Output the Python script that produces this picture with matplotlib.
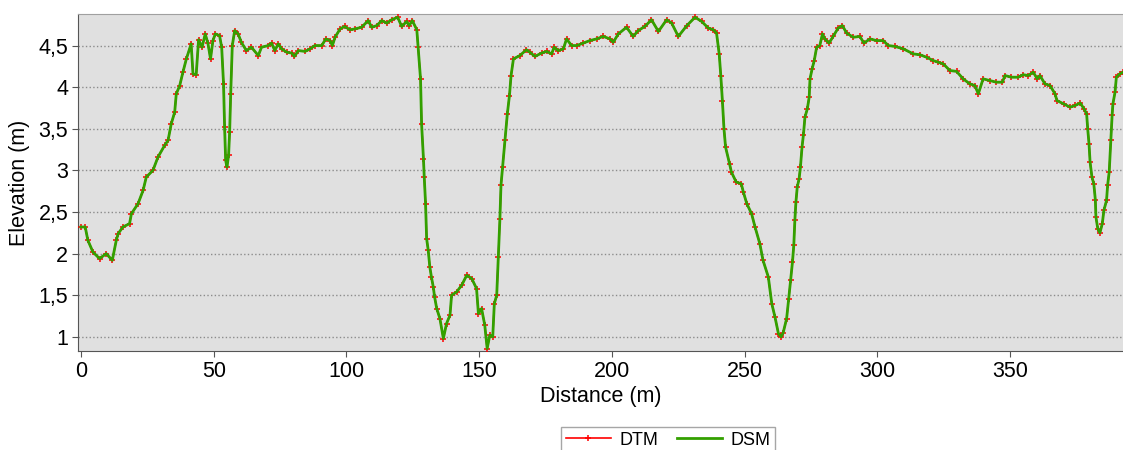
import matplotlib.pyplot as plt
from matplotlib.ticker import FuncFormatter

plt.rcParams['font.family'] = ['Liberation Sans', 'DejaVu Sans']

# profile along the transect
distance = [0, 1.6, 2.6, 4.5, 7, 9.5, 11.8, 13.3, 14, 15.8, 18.3, 19, 21.5, 23.4, 24.6, 27.1, 29, 31.5, 32.8, 34,
            35.3, 35.9, 37.2, 38.4, 39.7, 41.5, 42.2, 43.4, 44.3, 45.6, 46.8, 47.8, 48.8, 49.7, 50.6, 52.2, 53, 53.7,
            54.1, 54.5, 55, 55.6, 56, 56.4, 57, 57.9, 59.2, 60.4, 62.3, 64.2, 66.8, 68, 70.5, 71.8, 73, 74.3, 75.6,
            77.5, 79.4, 80.4, 81.9, 84.4, 86.3, 88.1, 90.7, 92.2, 93.8, 94.7, 95.7, 97.6, 99.3, 101.3, 103.2, 105.7,
            108.2, 109.5, 111.4, 113.3, 115.2, 117, 119.3, 120.8, 122.7, 123.6, 124.8, 126.5, 127, 127.9, 128.3, 129,
            129.3, 129.8, 130.2, 130.8, 131.4, 132, 132.7, 133.2, 134, 135.2, 136.5, 137.7, 139, 139.6, 141.5, 143.4,
            145.3, 147.2, 149, 149.7, 150.9, 152.1, 153, 154, 155.1, 155.7, 156.6, 157.2, 157.8, 158.2, 158.8, 159.7,
            160.6, 161.4, 162, 162.9, 165.3, 167.8, 169.1, 171, 173.5, 175.4, 177.3, 178.2, 179.8, 181.7, 182.9, 184.8,
            186.7, 189.2, 191.7, 194.2, 196.7, 199.3, 200.5, 202.4, 205.5, 208, 209.9, 212.4, 214.9, 217.5, 220.6,
            222.5, 225, 228.2, 231.3, 233.8, 236.3, 238.2, 239.4, 240.4, 241, 241.6, 242.2, 242.8, 244.3, 245, 246.8,
            248.7, 249.5, 250.8, 252.6, 253.9, 255.7, 256.9, 258.9, 260.2, 261.4, 262.7, 263.7, 264.5, 265.8, 266.6,
            267.3, 268, 268.5, 268.9, 269.3, 269.8, 270.5, 271, 271.6, 272.1, 272.7, 273.6, 274.3, 274.6, 275.4, 276.2,
            277.1, 278.3, 279.3, 280.2, 281.8, 283.3, 285.2, 286.8, 288.4, 290.9, 293.4, 294.9, 297.2, 299.7, 302.2,
            304.1, 306.6, 309.8, 313.5, 316, 318.5, 321, 322.9, 324.8, 327.3, 329.8, 332.3, 334.8, 336.7, 338, 339.8,
            342.3, 344.8, 347.1, 348, 350.5, 353, 354.9, 356.8, 358.7, 360.2, 361.2, 363.1, 365, 366.9, 367.6, 370.1,
            372.6, 374.5, 376.4, 377.8, 378.8, 379.2, 379.7, 380.1, 380.8, 381.5, 382.1, 382.3, 383, 383.8, 384.7,
            385.3, 386.3, 386.7, 387.3, 387.9, 388.4, 388.7, 389.5, 390, 391.3, 392.5]

dtm = [2.32, 2.32, 2.16, 2.02, 1.94, 2.0, 1.92, 2.16, 2.24, 2.32, 2.36, 2.48, 2.60, 2.76, 2.92, 3.0, 3.16, 3.30, 3.36,
       3.56, 3.70, 3.92, 4.02, 4.18, 4.34, 4.52, 4.16, 4.15, 4.57, 4.48, 4.64, 4.53, 4.34, 4.56, 4.64, 4.62, 4.48, 4.04,
       3.52, 3.12, 3.04, 3.18, 3.46, 3.92, 4.50, 4.68, 4.64, 4.54, 4.44, 4.48, 4.38, 4.48, 4.50, 4.53, 4.44, 4.52, 4.46,
       4.42, 4.41, 4.37, 4.44, 4.43, 4.46, 4.50, 4.50, 4.58, 4.56, 4.50, 4.60, 4.70, 4.73, 4.69, 4.70, 4.72, 4.80, 4.72,
       4.74, 4.80, 4.77, 4.81, 4.84, 4.73, 4.79, 4.74, 4.80, 4.69, 4.48, 4.10, 3.56, 3.14, 2.92, 2.60, 2.18, 2.04, 1.84,
       1.72, 1.60, 1.48, 1.34, 1.22, 0.98, 1.16, 1.26, 1.50, 1.54, 1.62, 1.74, 1.70, 1.58, 1.28, 1.34, 1.14, 0.86, 1.02,
       1.0, 1.40, 1.50, 1.96, 2.42, 2.82, 3.04, 3.36, 3.68, 3.90, 4.14, 4.34, 4.38, 4.45, 4.42, 4.37, 4.41, 4.43, 4.40,
       4.48, 4.44, 4.46, 4.58, 4.50, 4.50, 4.53, 4.56, 4.58, 4.61, 4.58, 4.54, 4.64, 4.72, 4.61, 4.68, 4.73, 4.81, 4.67,
       4.81, 4.77, 4.61, 4.74, 4.84, 4.79, 4.71, 4.69, 4.65, 4.40, 4.14, 3.84, 3.50, 3.28, 3.08, 2.98, 2.86, 2.84, 2.74,
       2.60, 2.48, 2.32, 2.12, 1.92, 1.72, 1.40, 1.24, 1.04, 1.00, 1.05, 1.22, 1.46, 1.68, 1.90, 2.10, 2.40, 2.62, 2.80,
       2.90, 3.04, 3.28, 3.42, 3.64, 3.74, 3.88, 4.10, 4.22, 4.32, 4.48, 4.50, 4.64, 4.58, 4.53, 4.61, 4.71, 4.74, 4.65,
       4.60, 4.61, 4.53, 4.58, 4.56, 4.56, 4.50, 4.49, 4.46, 4.40, 4.39, 4.36, 4.32, 4.30, 4.28, 4.20, 4.19, 4.10, 4.04,
       4.02, 3.92, 4.10, 4.08, 4.06, 4.06, 4.14, 4.12, 4.12, 4.15, 4.14, 4.18, 4.10, 4.14, 4.04, 4.02, 3.92, 3.84, 3.80,
       3.76, 3.78, 3.81, 3.74, 3.68, 3.50, 3.32, 3.10, 2.92, 2.84, 2.64, 2.44, 2.30, 2.25, 2.36, 2.52, 2.64, 2.82, 2.98,
       3.36, 3.66, 3.80, 3.94, 4.12, 4.16, 4.18]

# surface model follows the terrain along this line
dsm = list(dtm)

fig = plt.figure(figsize=(11.23, 4.5), dpi=100)
ax = fig.add_axes([0.0695, 0.22, 0.9305, 0.749])
ax.set_facecolor('#e0e0e0')

ax.plot(distance, dtm, color='#ff0000', linewidth=1.2, marker='+', markersize=4.5,
        markeredgewidth=1.1, label='DTM', zorder=3)
ax.plot(distance, dsm, color='#33a000', linewidth=2.0, label='DSM', zorder=4)

ax.set_xlim(-1.1, 392.5)
ax.set_ylim(0.83, 4.88)
ax.set_xticks([0, 50, 100, 150, 200, 250, 300, 350])
ax.set_yticks([1, 1.5, 2, 2.5, 3, 3.5, 4, 4.5])
# decimal comma on the elevation axis
ax.yaxis.set_major_formatter(FuncFormatter(lambda v, p: ('%g' % v).replace('.', ',')))

ax.grid(axis='y', color='#8c8c8c', linestyle=':', linewidth=1.0)
ax.set_axisbelow(True)

ax.spines['right'].set_visible(False)
ax.spines['top'].set_color('#a0a0a0')
ax.spines['left'].set_color('#555555')
ax.spines['bottom'].set_color('#555555')
ax.tick_params(axis='both', labelsize=15.5, length=4, color='#555555', pad=3)

ax.set_xlabel('Distance (m)', fontsize=15.5, labelpad=3)
ax.set_ylabel('Elevation (m)', fontsize=15.5, labelpad=6)

fig.legend(loc='upper center', bbox_to_anchor=(0.595, 0.051), ncol=2, fontsize=13,
           frameon=True, fancybox=False, edgecolor='#909090', handlelength=2.5,
           handletextpad=0.5, columnspacing=1.0, borderpad=0.25, borderaxespad=0)

plt.savefig('out.png', dpi=100)
